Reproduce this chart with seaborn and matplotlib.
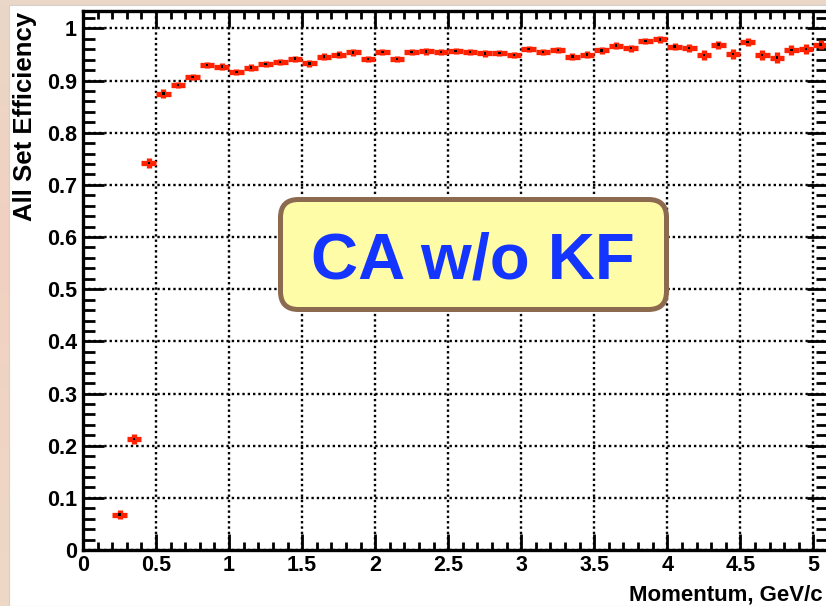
import numpy as np
import pandas as pd
import matplotlib
matplotlib.use("Agg")
import matplotlib.pyplot as plt
from matplotlib.ticker import MultipleLocator, FixedLocator, FixedFormatter
from matplotlib.patches import FancyBboxPatch, Rectangle
from matplotlib.transforms import IdentityTransform
import seaborn as sns

# Bin centres of the momentum histogram (GeV/c) and the efficiency in each bin
momentum = [0.25, 0.35, 0.45, 0.55, 0.65, 0.75, 0.85, 0.95,
            1.05, 1.15, 1.25, 1.35, 1.45, 1.55, 1.65, 1.75, 1.85, 1.95,
            2.05, 2.15, 2.25, 2.35, 2.45, 2.55, 2.65, 2.75, 2.85, 2.95,
            3.05, 3.15, 3.25, 3.35, 3.45, 3.55, 3.65, 3.75, 3.85, 3.95,
            4.05, 4.15, 4.25, 4.35, 4.45, 4.55, 4.65, 4.75, 4.85, 4.95,
            5.05]
efficiency = [0.068, 0.213, 0.742, 0.875, 0.891, 0.907, 0.930, 0.927,
              0.917, 0.925, 0.932, 0.936, 0.942, 0.933, 0.946, 0.950, 0.954, 0.941,
              0.955, 0.941, 0.955, 0.956, 0.955, 0.957, 0.955, 0.952, 0.953, 0.949,
              0.960, 0.955, 0.959, 0.946, 0.950, 0.958, 0.967, 0.962, 0.976, 0.979,
              0.965, 0.962, 0.949, 0.969, 0.951, 0.974, 0.949, 0.944, 0.959, 0.961,
              0.969]
eff_error = [0.008, 0.010, 0.010, 0.008, 0.006, 0.006, 0.006, 0.006,
             0.006, 0.006, 0.006, 0.006, 0.006, 0.006, 0.006, 0.006, 0.006, 0.006,
             0.006, 0.006, 0.006, 0.006, 0.006, 0.006, 0.006, 0.006, 0.006, 0.006,
             0.006, 0.006, 0.006, 0.007, 0.007, 0.007, 0.007, 0.007, 0.006, 0.006,
             0.007, 0.0075, 0.010, 0.0075, 0.009, 0.007, 0.010, 0.011, 0.010, 0.010,
             0.008]
bin_half_width = 0.05

x_ticks = [0, 0.5, 1, 1.5, 2, 2.5, 3, 3.5, 4, 4.5, 5]
x_tick_labels = ["0", "0.5", "1", "1.5", "2", "2.5", "3", "3.5", "4", "4.5", "5"]
y_ticks = [0, 0.1, 0.2, 0.3, 0.4, 0.5, 0.6, 0.7, 0.8, 0.9, 1.0]
y_tick_labels = ["0", "0.1", "0.2", "0.3", "0.4", "0.5", "0.6", "0.7", "0.8", "0.9", "1"]

df = pd.DataFrame({"momentum": momentum, "efficiency": efficiency, "err": eff_error})

sns.set_theme(style="white")
plt.rcParams["font.family"] = ["Liberation Sans", "DejaVu Sans"]
plt.rcParams["font.weight"] = "bold"

W, H = 826, 606
fig = plt.figure(figsize=(W / 100, H / 100), dpi=100)

# slide background: warm beige/pink strip with the white picture on top
bg = fig.add_axes([0, 0, 1, 1], zorder=-10)
bg.axis("off")
top_c = np.array([234, 215, 199]) / 255
mid_c = np.array([241, 209, 193]) / 255
bot_c = np.array([238, 216, 198]) / 255
t = np.linspace(0, 1, 200)[:, None]
grad = np.where(t < 0.4, top_c + (mid_c - top_c) * (t / 0.4),
                mid_c + (bot_c - mid_c) * ((t - 0.4) / 0.6))
bg.imshow(grad[:, None, :], aspect="auto", extent=[0, 1, 0, 1], origin="upper")
bg.set_xlim(0, 1)
bg.set_ylim(0, 1)
bg.add_patch(Rectangle((8.5 / W, 0), 1, (H - 5) / H, facecolor="white",
                       edgecolor="#d6d0cc", linewidth=0.8, transform=bg.transAxes))

# main histogram frame
left_px, right_px, top_px, bottom_px = 83, 828, 10.7, 550
ax = fig.add_axes([left_px / W, (H - bottom_px) / H,
                   (right_px - left_px) / W, (bottom_px - top_px) / H])
ax.set_facecolor("white")
ax.set_xlim(0, 5.1)
ax.set_ylim(0, 1.034)

ax.grid(which="major", color="black", linestyle=(0, (1, 1.25)), linewidth=1.7, zorder=1)
ax.set_axisbelow(True)

ax.errorbar(df["momentum"], df["efficiency"], xerr=bin_half_width, yerr=df["err"],
            fmt="none", ecolor="#ff2200", elinewidth=3.8, capsize=0, zorder=3)
sns.scatterplot(data=df, x="momentum", y="efficiency", ax=ax, marker="s", s=3,
                color="black", edgecolor="none", linewidth=0, zorder=4, legend=False)

ax.set_xlabel("")
ax.set_ylabel("")
ax.xaxis.set_major_locator(FixedLocator(x_ticks))
ax.xaxis.set_major_formatter(FixedFormatter(x_tick_labels))
ax.yaxis.set_major_locator(FixedLocator(y_ticks))
ax.yaxis.set_major_formatter(FixedFormatter(y_tick_labels))
ax.xaxis.set_minor_locator(MultipleLocator(0.1))
ax.yaxis.set_minor_locator(MultipleLocator(0.02))

for s in ax.spines.values():
    s.set_visible(True)
    s.set_color("black")
    s.set_linewidth(2.4)

ax.tick_params(which="both", direction="in", top=True, right=True, bottom=True, left=True,
               color="black", width=2.0, labelsize=15.5, labelcolor="black")
ax.tick_params(axis="x", which="major", length=11.5, pad=3.6)
ax.tick_params(axis="x", which="minor", length=5.8)
ax.tick_params(axis="y", which="major", length=15, pad=4.3)
ax.tick_params(axis="y", which="minor", length=8.3)
for lab in ax.get_xticklabels() + ax.get_yticklabels():
    lab.set_fontweight("bold")

# axis titles
fig.text(31.7 / W, (H - 11.7) / H, "All Set Efficiency", rotation=90,
         rotation_mode="anchor", ha="right", va="baseline",
         fontsize=18.5, fontweight="bold", color="black")
fig.text(823 / W, (H - 600.7) / H, "Momentum, GeV/c", ha="right", va="baseline",
         fontsize=16, fontweight="bold", color="black")

# label box
lw_px = 5
x0, x1 = 278 + lw_px / 2, 669 - lw_px / 2
y0, y1 = H - (312 - lw_px / 2), H - (197 + lw_px / 2)
box = FancyBboxPatch((x0, y0), x1 - x0, y1 - y0,
                     boxstyle="round,pad=0,rounding_size=18",
                     facecolor="#fffca8", edgecolor="#8c6a50",
                     linewidth=lw_px * 0.72, transform=IdentityTransform(), zorder=5)
fig.add_artist(box)
fig.text(473 / W, (H - 278.3) / H, "CA w/o KF", ha="center", va="baseline",
         fontsize=47, fontweight="bold", color="#1434ff", zorder=6)

fig.savefig("out.png", dpi=100)
